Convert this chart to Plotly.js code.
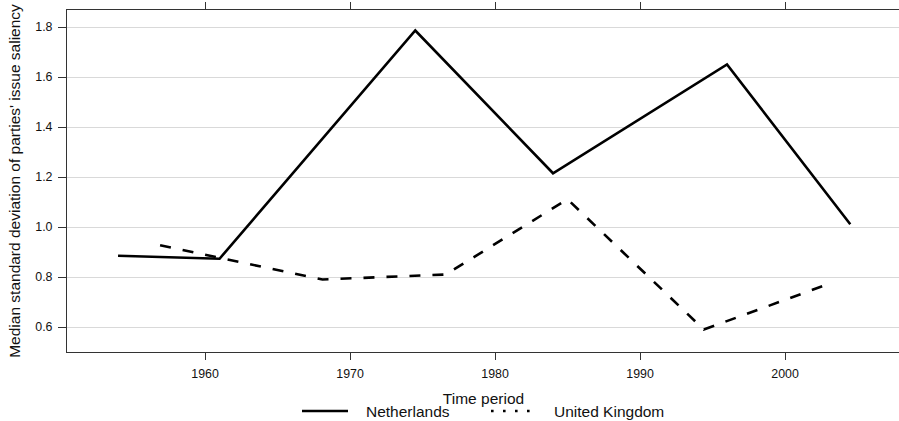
<!DOCTYPE html>
<html>
<head>
<meta charset="utf-8">
<script src="https://cdn.plot.ly/plotly-3.0.1.min.js"></script>
<style>
  html, body { margin: 0; padding: 0; background: #fff; overflow: hidden; }
  #chart { width: 900px; height: 421px; }
</style>
</head>
<body>
<div id="chart"></div>
<script>
// Median standard deviation of parties' issue saliency by time period
const nlYears = [1954.0, 1961.0, 1974.5, 1984.0, 1996.0, 2004.5];
const nlValues = [0.885, 0.873, 1.786, 1.215, 1.650, 1.011];

const ukYears = [1956.9, 1968.1, 1976.6, 1985.0, 1994.4, 2003.0];
const ukValues = [0.927, 0.790, 0.810, 1.111, 0.590, 0.772];

const seriesNames = ['Netherlands', 'United Kingdom'];
const xTicks = [1960, 1970, 1980, 1990, 2000];
const yTicks = [0.6, 0.8, 1.0, 1.2, 1.4, 1.6, 1.8];

const FONT = 'Liberation Sans, Arial, Helvetica, sans-serif';
const W = 900, H = 421;
const M = { l: 67, r: 0, t: 10, b: 69 };

// pixel position -> paper coordinates (for the key drawn under the axis)
const px = x => (x - M.l) / (W - M.l - M.r);
const py = y => (H - M.b - y) / (H - M.t - M.b);

const traces = [
  {
    x: nlYears, y: nlValues, name: seriesNames[0], type: 'scatter', mode: 'lines',
    line: { color: '#000', width: 2.6 }, showlegend: false, hoverinfo: 'x+y+name'
  },
  {
    x: ukYears, y: ukValues, name: seriesNames[1], type: 'scatter', mode: 'lines',
    line: { color: '#000', width: 2.6, dash: '11px,12px' }, showlegend: false, hoverinfo: 'x+y+name'
  }
];

const keyY = py(411);
const layout = {
  width: W, height: H,
  margin: M,
  paper_bgcolor: '#fff', plot_bgcolor: '#fff',
  font: { family: FONT, color: '#111', size: 15.5 },
  showlegend: false,
  xaxis: {
    range: [1950.48, 2007.93],
    tickvals: xTicks, ticktext: xTicks.map(String),
    ticks: 'outside', ticklen: 7, tickwidth: 1, tickcolor: '#333',
    showline: true, linecolor: '#333', linewidth: 1, mirror: 'ticks',
    showgrid: false, zeroline: false,
    tickfont: { size: 12.4, color: '#111' },
    ticklabelstandoff: 3,
    title: { text: 'Time period', font: { size: 15.5, color: '#111' }, standoff: 13 },
    automargin: false
  },
  yaxis: {
    range: [0.5, 1.868],
    tickvals: yTicks, ticktext: yTicks.map(v => v.toFixed(1)),
    ticks: 'outside', ticklen: 8, tickwidth: 1, tickcolor: '#333',
    showline: true, linecolor: '#333', linewidth: 1,
    showgrid: true, gridcolor: '#d9d9d9', gridwidth: 1, zeroline: false,
    tickfont: { size: 12.4, color: '#111' },
    ticklabelstandoff: 3,
    title: { text: "Median standard deviation of parties' issue saliency", font: { size: 15.5, color: '#111' }, standoff: 10 },
    automargin: false
  },
  shapes: [
    { type: 'line', xref: 'paper', yref: 'paper', x0: px(302), x1: px(348), y0: keyY, y1: keyY,
      line: { color: '#000', width: 2.6 } },
    { type: 'line', xref: 'paper', yref: 'paper', x0: px(491), x1: px(532), y0: keyY, y1: keyY,
      line: { color: '#000', width: 2.6, dash: '2.6px,9.4px' } }
  ],
  annotations: [
    { xref: 'paper', yref: 'paper', x: px(364), y: keyY, text: seriesNames[0], showarrow: false,
      xanchor: 'left', yanchor: 'middle', font: { size: 15.5, color: '#111' } },
    { xref: 'paper', yref: 'paper', x: px(552), y: keyY, text: seriesNames[1], showarrow: false,
      xanchor: 'left', yanchor: 'middle', font: { size: 15.5, color: '#111' } }
  ]
};

Plotly.newPlot('chart', traces, layout, { displayModeBar: false, staticPlot: true });
</script>
</body>
</html>
